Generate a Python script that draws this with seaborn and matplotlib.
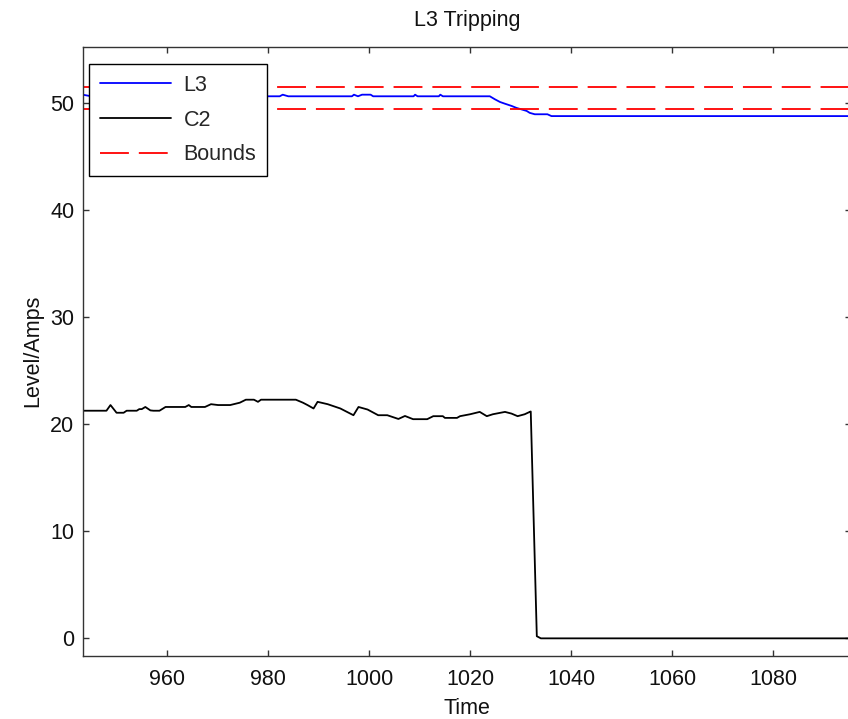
import numpy as np
import pandas as pd
import matplotlib
matplotlib.use("Agg")
import matplotlib.pyplot as plt
import seaborn as sns

# C2 current trace
c2_time = [943.3, 948.0, 948.8, 950.0, 951.4, 952.0, 954.0, 954.5, 955.0, 955.7,
           956.7, 957.3, 958.5, 959.7, 963.6, 964.3, 964.8, 967.5, 968.7, 970.1,
           972.5, 974.4, 975.6, 977.2, 978.0, 978.6, 985.5, 986.9, 987.8, 989.0,
           989.8, 991.8, 994.3, 996.9, 997.9, 999.7, 1001.8, 1003.6, 1005.8, 1007.1,
           1008.7, 1011.5, 1012.7, 1014.6, 1015.0, 1017.4, 1018.0, 1020.0, 1021.9, 1023.3,
           1024.5, 1026.9, 1028.2, 1029.4, 1030.8, 1031.8, 1032.0, 1033.2, 1034.0, 1095.5]
c2_level = [21.27, 21.27, 21.8, 21.08, 21.08, 21.27, 21.27, 21.42, 21.42, 21.62,
            21.3, 21.27, 21.27, 21.62, 21.62, 21.8, 21.62, 21.62, 21.88, 21.8,
            21.8, 22.02, 22.3, 22.3, 22.1, 22.3, 22.3, 22.02, 21.8, 21.48,
            22.1, 21.88, 21.48, 20.85, 21.62, 21.38, 20.85, 20.85, 20.5, 20.78,
            20.48, 20.48, 20.76, 20.76, 20.6, 20.6, 20.76, 20.94, 21.16, 20.76,
            20.94, 21.16, 21.0, 20.76, 20.94, 21.16, 21.2, 0.2, 0.0, 0.0]

# L3 level trace
l3_time = [943.3, 945.0, 982.3, 982.9, 984.0, 996.6, 997.0, 997.8, 998.6, 1000.3,
           1000.8, 1008.8, 1009.1, 1009.6, 1013.8, 1014.1, 1014.6, 1023.9, 1024.9, 1025.9,
           1026.8, 1028.2, 1029.2, 1031.2, 1031.8, 1032.8, 1035.3, 1036.1, 1095.5]
l3_level = [50.8, 50.65, 50.65, 50.8, 50.65, 50.65, 50.8, 50.65, 50.8, 50.8,
            50.65, 50.65, 50.8, 50.65, 50.65, 50.8, 50.65, 50.65, 50.37, 50.12,
            49.97, 49.75, 49.56, 49.28, 49.1, 48.97, 48.97, 48.8, 48.8]

bounds = [51.5, 49.45]

sns.set_theme(style="ticks")
plt.rcParams["font.family"] = ["Liberation Sans", "DejaVu Sans"]
plt.rcParams["xtick.direction"] = "in"
plt.rcParams["ytick.direction"] = "in"

fig = plt.figure(figsize=(8.48, 7.19), dpi=100)
ax = fig.add_axes([82.7 / 848, 0.0876, (851 - 82.7) / 848, 0.9353 - 0.0876])

sns.lineplot(x=l3_time, y=l3_level, color="#0000ff", lw=1.3, ax=ax, label="L3")
sns.lineplot(x=c2_time, y=c2_level, color="black", lw=1.3, ax=ax, label="C2")
for i, b in enumerate(bounds):
    ax.axhline(b, color="#ff0000", lw=1.3, dashes=(16, 5.5),
               label="Bounds" if i == 0 else None)

ax.set_xlim(943.3, 1095.4)
ax.set_ylim(-1.65, 55.3)
ax.set_xticks([960, 980, 1000, 1020, 1040, 1060, 1080])
ax.set_yticks([0, 10, 20, 30, 40, 50])

fs = 15.5
ax.tick_params(axis="both", which="both", top=True, right=True, length=4,
               width=1, color="#333333", labelsize=fs, labelcolor="#111111")
ax.tick_params(axis="x", pad=9)
ax.tick_params(axis="y", pad=6)
for s in ax.spines.values():
    s.set_color("#333333")
    s.set_linewidth(1.0)

ax.set_title("L3 Tripping", fontsize=fs, pad=15, color="#111111")
ax.set_xlabel("Time", fontsize=fs, labelpad=6, color="#111111")
ax.set_ylabel("Level/Amps", fontsize=fs, labelpad=5, color="#111111")

leg = ax.legend(loc="upper left", bbox_to_anchor=(0.0082, 0.9713), borderaxespad=0,
                fontsize=fs, fancybox=False, framealpha=1, edgecolor="black",
                handlelength=3.3, handletextpad=0.6, labelspacing=0.64, borderpad=0.5)
leg.get_frame().set_linewidth(1.0)

fig.savefig("out.png", dpi=100)
